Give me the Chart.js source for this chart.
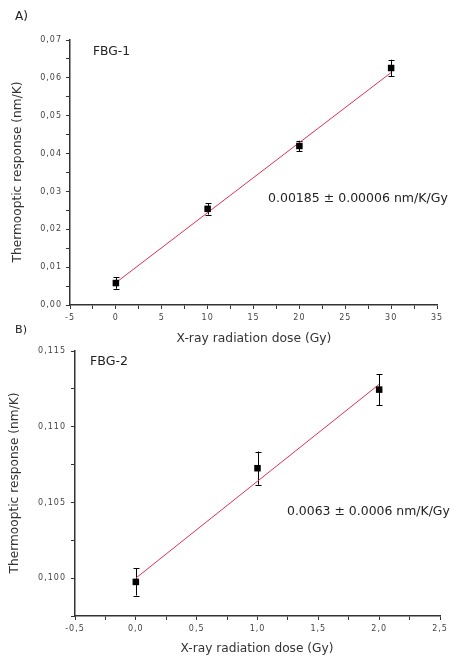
<!DOCTYPE html>
<html><head><meta charset="utf-8">
<script src="https://cdn.jsdelivr.net/npm/chart.js@4/dist/chart.umd.min.js"></script>
<style>
html,body{margin:0;padding:0;background:#fff;}
body{width:451px;height:656px;position:relative;overflow:hidden;}
canvas{position:absolute;left:0;}
#ca{top:0;}
#cb{top:310px;}
</style></head>
<body>
<canvas id="ca" width="451" height="350"></canvas>
<canvas id="cb" width="451" height="346"></canvas>
<script>
// ---- Panel A data (FBG-1) ----
const doseA = [0, 10, 20, 30];
const respA = [0.0058, 0.0254, 0.0420, 0.0626];
const errA = [0.0015, 0.0015, 0.0014, 0.0022];
const fitDoseA = [0, 30];
const fitRespA = [0.0059, 0.0614];
const xTicksA = [-5, 0, 5, 10, 15, 20, 25, 30, 35];
const xMinorA = [-2.5, 2.5, 7.5, 12.5, 17.5, 22.5, 27.5, 32.5];
const yTicksA = [0, 0.01, 0.02, 0.03, 0.04, 0.05, 0.06, 0.07];
const yMinorA = [0.005, 0.015, 0.025, 0.035, 0.045, 0.055, 0.065];

// ---- Panel B data (FBG-2) ----
const doseB = [0, 1, 2];
const respB = [0.09975, 0.10726, 0.11245];
const errB = [0.0009, 0.0011, 0.00103];
const fitDoseB = [0, 2];
const fitRespB = [0.1000, 0.1128];
const xTicksB = [-0.5, 0, 0.5, 1, 1.5, 2, 2.5];
const xMinorB = [-0.25, 0.25, 0.75, 1.25, 1.75, 2.25];
const yTicksB = [0.100, 0.105, 0.110, 0.115];
const yMinorB = [0.0975, 0.1025, 0.1075, 0.1125];

const AXIS = '#333333';
const TICKTXT = '#444444';
const FIT = '#e0304e';

function isMajor(list, v){ return list.some(m => Math.abs(m - v) < 1e-9); }
function fmt(v, d){ return v.toFixed(d).replace('.', ','); }

const errorBars = {
  id: 'errorBars',
  beforeDatasetsDraw(chart, args, opts){
    const ctx = chart.ctx, xs = chart.scales.x, ys = chart.scales.y;
    const ds = chart.data.datasets[0];
    ctx.save();
    ctx.strokeStyle = '#000';
    ctx.lineWidth = 1;
    ds.data.forEach((p, i) => {
      const e = opts.err[i];
      const px = Math.round(xs.getPixelForValue(p.x)) + 0.5;
      const y1 = ys.getPixelForValue(p.y + e), y2 = ys.getPixelForValue(p.y - e);
      ctx.beginPath();
      ctx.moveTo(px, y1); ctx.lineTo(px, y2);
      ctx.moveTo(px - 3, Math.round(y1)+0.5); ctx.lineTo(px + 3, Math.round(y1)+0.5);
      ctx.moveTo(px - 3, Math.round(y2)+0.5); ctx.lineTo(px + 3, Math.round(y2)+0.5);
      ctx.stroke();
    });
    ctx.restore();
  }
};

const spacing = {
  id: 'spacing',
  beforeDraw(chart){ chart.ctx.letterSpacing = '1px'; },
  afterDatasetsDraw(chart){ chart.ctx.letterSpacing = '0px'; }
};

const texts = {
  id: 'texts',
  afterDraw(chart, args, opts){
    const ctx = chart.ctx;
    ctx.save();
    ctx.letterSpacing = '0px';
    ctx.textBaseline = 'middle';
    (opts.items || []).forEach(t => {
      ctx.save();
      ctx.font = '12px "DejaVu Sans"';
      const m = ctx.measureText(t.text).width;
      const size = t.w ? 12 * t.w / m : 12;
      ctx.font = size.toFixed(2) + 'px "DejaVu Sans"';
      ctx.fillStyle = t.color || '#222';
      ctx.textAlign = t.align || 'left';
      ctx.translate(t.x, t.y);
      if (t.rot) ctx.rotate(t.rot);
      ctx.fillText(t.text, 0, 0);
      ctx.restore();
    });
    ctx.restore();
  }
};

function makeChart(id, cfg){
  const majorsX = cfg.xTicks, majorsY = cfg.yTicks;
  return new Chart(document.getElementById(id), {
    type: 'scatter',
    data: {
      datasets: [
        {
          data: cfg.dose.map((d, i) => ({x: d, y: cfg.resp[i]})),
          pointStyle: 'rect', pointRadius: 4.6, pointHoverRadius: 4.6,
          backgroundColor: '#000', borderColor: '#000', borderWidth: 0,
          showLine: false, order: 1
        },
        {
          type: 'line',
          data: cfg.fitDose.map((d, i) => ({x: d, y: cfg.fitResp[i]})),
          borderColor: FIT, borderWidth: 1, pointRadius: 0, fill: false, order: 2
        }
      ]
    },
    options: {
      responsive: false, animation: false,
      layout: { padding: { left: 0, right: cfg.padRight, top: cfg.padTop, bottom: 0 } },
      plugins: {
        legend: { display: false }, tooltip: { enabled: false },
        errorBars: { err: cfg.err },
        texts: { items: cfg.texts }
      },
      scales: {
        x: {
          type: 'linear', min: cfg.xMin, max: cfg.xMax,
          afterBuildTicks: s => { s.ticks = cfg.xTicks.concat(cfg.xMinor).sort((p,q)=>p-q).map(v => ({value: v})); },
          afterFit: s => { s.height = cfg.xHeight; },
          ticks: { autoSkip: false, maxRotation: 0, padding: cfg.xPad, color: TICKTXT,
                   font: { family: 'DejaVu Sans', size: 8 },
                   callback: v => isMajor(majorsX, v) ? fmt(v, cfg.xDec) : '' },
          grid: { drawOnChartArea: false, drawTicks: true, tickLength: 4, tickColor: AXIS, tickWidth: 1 },
          border: { display: true, color: AXIS, width: 1.5 }
        },
        y: {
          type: 'linear', min: cfg.yMin, max: cfg.yMax,
          afterBuildTicks: s => { s.ticks = cfg.yTicks.concat(cfg.yMinor).sort((p,q)=>p-q).map(v => ({value: v})); },
          afterFit: s => { s.width = cfg.yWidth; },
          ticks: { autoSkip: false, padding: cfg.yPad, color: TICKTXT,
                   font: { family: 'DejaVu Sans', size: 8 },
                   callback: v => isMajor(majorsY, v) ? fmt(v, cfg.yDec) : '' },
          grid: { drawOnChartArea: false, drawTicks: true, tickLength: 4, tickColor: AXIS, tickWidth: 1 },
          border: { display: true, color: AXIS, width: 1.5 }
        }
      }
    },
    plugins: [errorBars, spacing, texts]
  });
}

makeChart('ca', {
  dose: doseA, resp: respA, err: errA, fitDose: fitDoseA, fitResp: fitRespA,
  xTicks: xTicksA, xMinor: xMinorA, yTicks: yTicksA, yMinor: yMinorA,
  xMin: -5, xMax: 35, yMin: 0, yMax: 0.07, xDec: 0, yDec: 2,
  padRight: 14, padTop: 40, xHeight: 45, yWidth: 70, xPad: 4, yPad: 4,
  texts: [
    { text: 'A)', x: 15, y: 17, w: 13 },
    { text: 'FBG-1', x: 93, y: 52, w: 37 },
    { text: '0.00185 \u00b1 0.00006 nm/K/Gy', x: 268, y: 199, w: 180 },
    { text: 'Thermooptic response (nm/K)', x: 18, y: 172, rot: -Math.PI/2, align: 'center', w: 181, color: '#333' },
    { text: 'X-ray radiation dose (Gy)', x: 254, y: 339, align: 'center', w: 155, color: '#333' }
  ]
});

makeChart('cb', {
  dose: doseB, resp: respB, err: errB, fitDose: fitDoseB, fitResp: fitRespB,
  xTicks: xTicksB, xMinor: xMinorB, yTicks: yTicksB, yMinor: yMinorB,
  xMin: -0.5, xMax: 2.5, yMin: 0.0975, yMax: 0.115, xDec: 1, yDec: 3,
  padRight: 11, padTop: 41, xHeight: 40, yWidth: 75, xPad: 4, yPad: 5,
  texts: [
    { text: 'B)', x: 15, y: 20, w: 12 },
    { text: 'FBG-2', x: 90, y: 52, w: 38 },
    { text: '0.0063 \u00b1 0.0006 nm/K/Gy', x: 287, y: 202, w: 163 },
    { text: 'Thermooptic response (nm/K)', x: 15, y: 173, rot: -Math.PI/2, align: 'center', w: 181, color: '#333' },
    { text: 'X-ray radiation dose (Gy)', x: 257, y: 339, align: 'center', w: 153, color: '#333' }
  ]
});
</script>
</body></html>
